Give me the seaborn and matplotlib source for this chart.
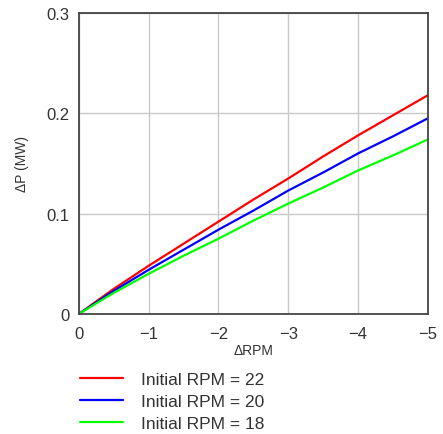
import pandas as pd
import matplotlib
matplotlib.use('Agg')
import matplotlib.pyplot as plt
import seaborn as sns

# Valeurs
delta_rpm = [0, -0.5, -1, -1.5, -2, -2.5, -3, -3.5, -4, -4.5, -5]
p_rpm22 = [0, 0.025, 0.048, 0.070, 0.092, 0.114, 0.135, 0.157, 0.178, 0.198, 0.218]
p_rpm20 = [0, 0.023, 0.044, 0.064, 0.084, 0.103, 0.123, 0.141, 0.160, 0.177, 0.195]
p_rpm18 = [0, 0.021, 0.040, 0.058, 0.075, 0.093, 0.110, 0.126, 0.143, 0.158, 0.174]
labels = ['Initial RPM = 22', 'Initial RPM = 20', 'Initial RPM = 18']
couleurs = ['#ff0000', '#0000ff', '#00ff00']

df = pd.DataFrame({
    'dRPM': delta_rpm * 3,
    'dP': p_rpm22 + p_rpm20 + p_rpm18,
    'serie': [labels[0]] * len(delta_rpm) + [labels[1]] * len(delta_rpm) + [labels[2]] * len(delta_rpm),
})

sns.set_style('white')
plt.rcParams['font.family'] = ['Liberation Sans', 'DejaVu Sans']

fig = plt.figure(figsize=(4.43, 4.35), dpi=100)
ax = fig.add_axes([0.178, 0.276, 0.788, 0.692])

sns.lineplot(data=df, x='dRPM', y='dP', hue='serie', palette=couleurs,
             linewidth=1.6, ax=ax, legend=False, sort=False)

ax.set_xlim(0, -5)
ax.set_ylim(0, 0.3)
ax.set_xticks([0, -1, -2, -3, -4, -5])
ax.set_yticks([0, 0.1, 0.2, 0.3])
ax.set_yticklabels(['0', '0.1', '0.2', '0.3'])
ax.grid(True, color='#c8c8c8', linewidth=1.0)
ax.set_axisbelow(True)
for s in ax.spines.values():
    s.set_color('#444444')
    s.set_linewidth(1.3)
ax.tick_params(axis='x', length=0, labelsize=12, colors='#333333', pad=9)
ax.tick_params(axis='y', length=0, labelsize=12, colors='#333333', pad=7)
ax.set_xlabel('ΔRPM', fontsize=10, color='#333333', labelpad=1)
ax.set_ylabel('ΔP (MW)', fontsize=10, color='#333333', labelpad=12)

handles = [plt.Line2D([], [], color=c, linewidth=1.6) for c in couleurs]
fig.legend(handles, labels, loc='lower left', bbox_to_anchor=(0.145, -0.029),
           frameon=False, fontsize=12.5, handlelength=2.5, handletextpad=1.05,
           labelspacing=0.38, labelcolor='#333333')

fig.savefig('out.png', dpi=100)
